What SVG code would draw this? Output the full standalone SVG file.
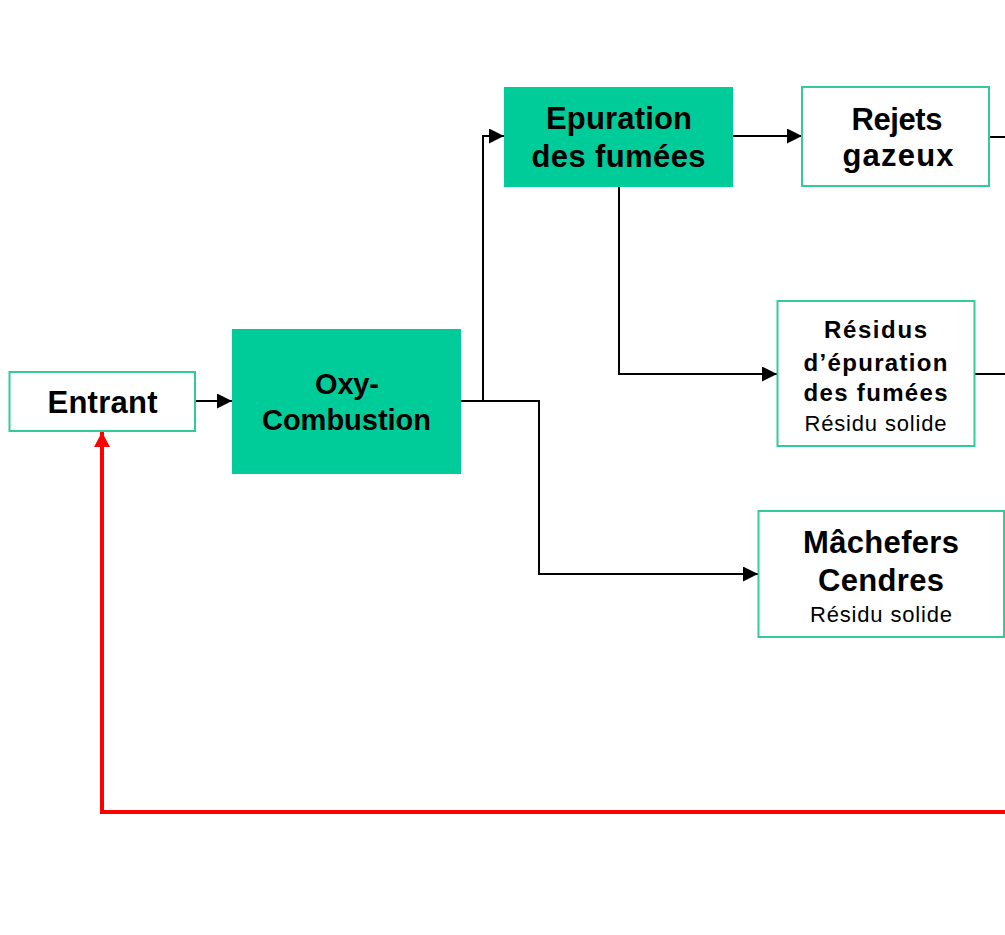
<svg xmlns="http://www.w3.org/2000/svg" width="1005" height="935" viewBox="0 0 1005 935">
  <style>
    .proc { fill: #00CC99; stroke: none; }
    .out { fill: #FFFFFF; stroke: #33CC99; stroke-width: 2; }
    .big { font-family: "Liberation Sans", Arial, sans-serif; font-weight: bold; font-size: 31px; fill: #000; text-anchor: middle; }
    .big.tight { font-size: 29px; }
    .mid { font-family: "Liberation Sans", Arial, sans-serif; font-weight: bold; font-size: 24px; fill: #000; text-anchor: middle; }
    .small { font-family: "Liberation Sans", Arial, sans-serif; font-size: 22px; fill: #000; text-anchor: middle; }
    .flow { fill: none; stroke: #000; stroke-width: 2; }
    .loop { fill: none; stroke: #FF0000; stroke-width: 4; }
  </style>
  <defs>
    <marker id="arrow" markerUnits="userSpaceOnUse" viewBox="0 0 15 15" markerWidth="15" markerHeight="15" refX="15" refY="7.5" orient="auto">
      <path d="M0,0 L15,7.5 L0,15 Z" fill="#000"/>
    </marker>
    <marker id="arrow-red" markerUnits="userSpaceOnUse" viewBox="0 0 15 16" markerWidth="15" markerHeight="16" refX="15" refY="8" orient="auto">
      <path d="M0,0 L15,8 L0,16 Z" fill="#FF0000"/>
    </marker>
  </defs>

  <rect width="1005" height="935" fill="#FFFFFF"/>

  <!-- connectors -->
  <g id="connectors">
    <path class="flow" d="M195,401 H232" marker-end="url(#arrow)"/>
    <path class="flow" d="M461,401 H483 V136 H504" marker-end="url(#arrow)"/>
    <path class="flow" d="M461,401 H539 V574 H758" marker-end="url(#arrow)"/>
    <path class="flow" d="M733,136 H802" marker-end="url(#arrow)"/>
    <path class="flow" d="M619,187 V374 H777" marker-end="url(#arrow)"/>
    <path class="flow" d="M989,137 H1005"/>
    <path class="flow" d="M975,374 H1005"/>
    <path class="flow" d="M1004,574 H1005"/>
    <path class="loop" d="M1005,812 H102 V432" marker-end="url(#arrow-red)"/>
  </g>

  <!-- nodes -->
  <g id="entrant">
    <rect class="out" x="9.5" y="372" width="185.5" height="59"/>
    <text class="big" x="102.5" y="413" textLength="110">Entrant</text>
  </g>

  <g id="oxy-combustion">
    <rect class="proc" x="232" y="329" width="229" height="145"/>
    <text class="big tight" x="347" y="394" textLength="64">Oxy-</text>
    <text class="big tight" x="346.5" y="430" textLength="169">Combustion</text>
  </g>

  <g id="epuration">
    <rect class="proc" x="504" y="87" width="229" height="100"/>
    <text class="big" x="619" y="129" textLength="146">Epuration</text>
    <text class="big" x="618.5" y="167" textLength="174">des fumées</text>
  </g>

  <g id="rejets-gazeux">
    <rect class="out" x="802" y="87" width="187" height="99"/>
    <text class="big" x="897" y="130" textLength="91">Rejets</text>
    <text class="big" x="898" y="166" textLength="111">gazeux</text>
  </g>

  <g id="residus-epuration">
    <rect class="out" x="777.5" y="301" width="197" height="145"/>
    <text class="mid" x="875.5" y="337.5" textLength="103">Résidus</text>
    <text class="mid" x="875.5" y="371" textLength="144">d’épuration</text>
    <text class="mid" x="875.5" y="401" textLength="144">des fumées</text>
    <text class="small" x="875.5" y="431" textLength="142">Résidu solide</text>
  </g>

  <g id="machefers">
    <rect class="out" x="758.5" y="511" width="245.5" height="126"/>
    <text class="big" x="881" y="553" textLength="156">Mâchefers</text>
    <text class="big" x="881" y="591" textLength="126">Cendres</text>
    <text class="small" x="881" y="621.5" textLength="142">Résidu solide</text>
  </g>
</svg>
